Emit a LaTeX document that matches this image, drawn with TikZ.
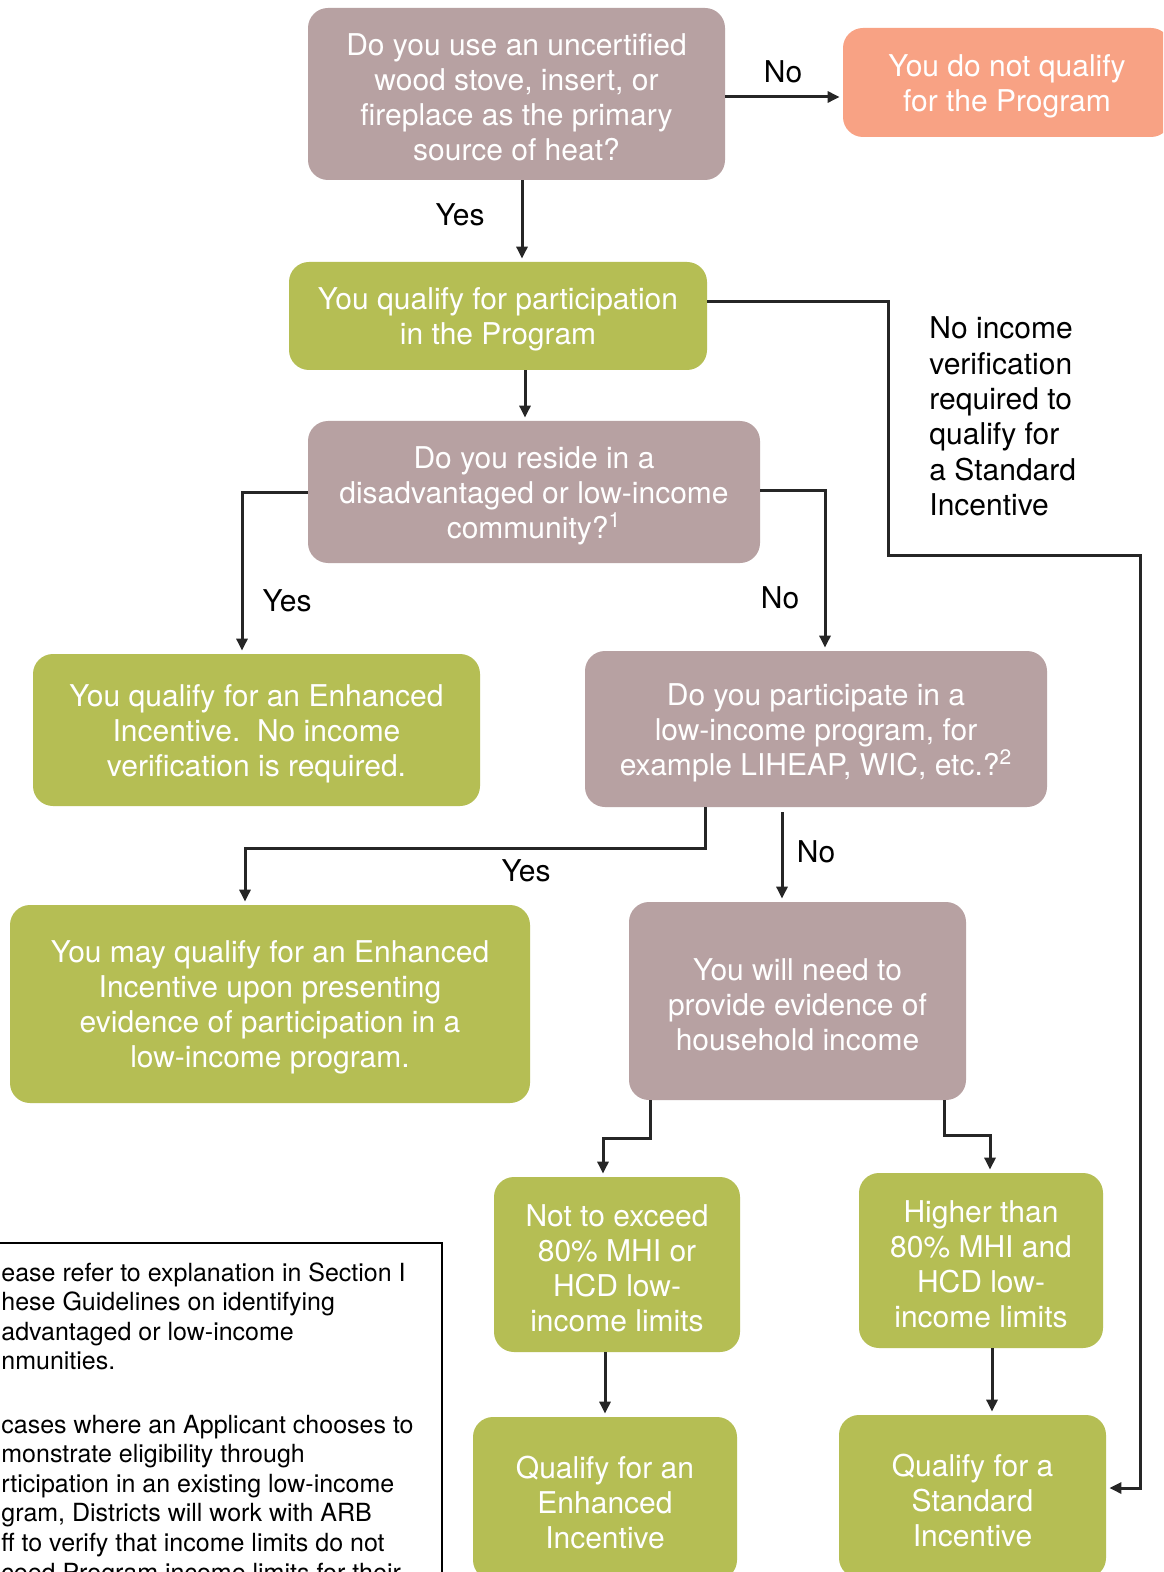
\documentclass[tikz,border=0pt]{standalone}
\usepackage{fontspec}
\setmainfont{TeX Gyre Heros}
\usetikzlibrary{arrows.meta,calc}
\definecolor{boxmauve}{RGB}{183,161,162}
\definecolor{boxgreen}{RGB}{181,190,84}
\definecolor{boxsalmon}{RGB}{248,162,132}
\newcommand\flowbox[7]{%
  \node[#1, minimum width=#5, minimum height=#6] (#2) at (#3,#4) {};
  \node[boxtext] (#2-t) at ([yshift=-1.8pt]#2.center) {#7};}
\begin{document}
\begin{tikzpicture}[x=0.5pt,y=-0.5pt,
  box/.style={rounded corners=10pt, inner sep=0pt},
  boxtext/.style={inner sep=0pt, align=center, text=white,
    font=\fontsize{15pt}{17.5pt}\selectfont},
  qbox/.style={box, fill=boxmauve},
  gbox/.style={box, fill=boxgreen},
  sbox/.style={box, fill=boxsalmon},
  arr/.style={line width=1.5pt, draw=black!85, -{Triangle[length=6pt,width=5.5pt]}, shorten >=1.5pt},
  lbl/.style={font=\fontsize{15pt}{17.7pt}\selectfont, text=black, inner sep=0pt},
]
\useasboundingbox (0,0) rectangle (1163,1572);
\clip (0,0) rectangle (1163,1572);
\fill[white] (0,0) rectangle (1163,1572);

% nodes
\flowbox{qbox}{q1}{516.5}{94}{208.5pt}{86pt}
  {Do you use an uncertified\\wood stove, insert, or\\fireplace as the primary\\source of heat?}
\flowbox{sbox}{nq}{1007}{82.5}{164pt}{54.5pt}
  {You do not qualify\\for the Program}
\flowbox{gbox}{qual}{498}{316}{209pt}{54pt}
  {You qualify for participation\\in the Program}
\flowbox{qbox}{q2}{534}{492}{226pt}{71pt}
  {Do you reside in a\\disadvantaged or low-income\\community?\textsuperscript{1}}
\flowbox{gbox}{enh}{256.5}{730}{223.5pt}{76pt}
  {You qualify for an Enhanced\\Incentive.\ \ No income\\verification is required.}
\flowbox{qbox}{q3}{816}{729}{231pt}{78pt}
  {Do you participate in a\\low-income program, for\\example LIHEAP, WIC, etc.?\textsuperscript{2}}
\flowbox{gbox}{may}{270}{1004}{260pt}{99pt}
  {You may qualify for an Enhanced\\Incentive upon presenting\\evidence of participation in a\\low-income program.}
\flowbox{qbox}{need}{797.5}{1001}{168.5pt}{99pt}
  {You will need to\\provide evidence of\\household income}
\flowbox{gbox}{n80}{617}{1264.5}{123pt}{87.5pt}
  {Not to exceed\\80\% MHI or\\HCD low-\\income limits}
\flowbox{gbox}{h80}{981}{1260.5}{122pt}{87.5pt}
  {Higher than\\80\% MHI and\\HCD low-\\income limits}
\flowbox{gbox}{qe}{605}{1498.5}{132pt}{81.5pt}
  {Qualify for an\\Enhanced\\Incentive}
\flowbox{gbox}{qs}{972.5}{1496.5}{133.5pt}{81.5pt}
  {Qualify for a\\Standard\\Incentive}

% connectors
\draw[arr] ([yshift=-1.5pt]q1.east) -- ([yshift=-1.5pt]q1.east -| nq.west);
\node[lbl] (lno1) at (783,72) {No};

\draw[arr] ([xshift=2.75pt]q1.south) -- ([xshift=2.75pt]q1.south |- qual.north);
\node[lbl] (lyes1) at (460,215) {Yes};

\draw[arr] ([xshift=13.5pt]qual.south) -- ([xshift=13.5pt]qual.south |- q2.north);

\draw[arr] ([yshift=7pt]qual.east) -| (888,555) -| (1140,1488) -- ([yshift=4.25pt]qs.east);
\node[lbl, anchor=west, align=left] (lnoinc) at (929,416.5)
  {No income\\verification\\required to\\qualify for\\a Standard\\Incentive};

\draw[arr] (q2.west) -| ([xshift=-7.25pt]enh.north);
\node[lbl] (lyes2) at (287,601) {Yes};
\draw[arr] ([yshift=1pt]q2.east) -| ([xshift=4.5pt]q3.north);
\node[lbl] (lno2) at (780,598) {No};

\draw[arr] ([xshift=-55.5pt]q3.south) -- ++(0,41) -| ([xshift=-12.5pt]may.north);
\node[lbl] (lyes3) at (526,871) {Yes};
\draw[arr] ([xshift=-17pt,yshift=-2.5pt]q3.south) -- ([xshift=-17pt]q3.south |- need.north);
\node[lbl] (lno3) at (816,852) {No};

\draw[arr] ([xshift=-73.75pt]need.south) -- ++(0,38) -| ([xshift=-7pt]n80.north);
\draw[arr] ([xshift=73.25pt]need.south) -- ++(0,35) -| ([xshift=4.5pt]h80.north);

\draw[arr] ([xshift=-6pt]n80.south) -- ([xshift=-6pt]n80.south |- qe.north);
\draw[arr] ([xshift=5.5pt]h80.south) -- ([xshift=5.5pt]h80.south |- qs.north);

% footnote box
\draw[line width=0.8pt] (-20,1243) rectangle (442,1700);
\node[anchor=north west, align=left, inner sep=0pt,
  font=\fontsize{12.5pt}{14.8pt}\selectfont] (fn) at (1,1262)
  {ease refer to explanation in Section I\\
   hese Guidelines on identifying\\
   advantaged or low-income\\
   nmunities.\\[16.8pt]
   cases where an Applicant chooses to\\
   monstrate eligibility through\\
   rticipation in an existing low-income\\
   gram, Districts will work with ARB\\
   ff to verify that income limits do not\\
   ceed Program income limits for their};
\end{tikzpicture}
\end{document}
